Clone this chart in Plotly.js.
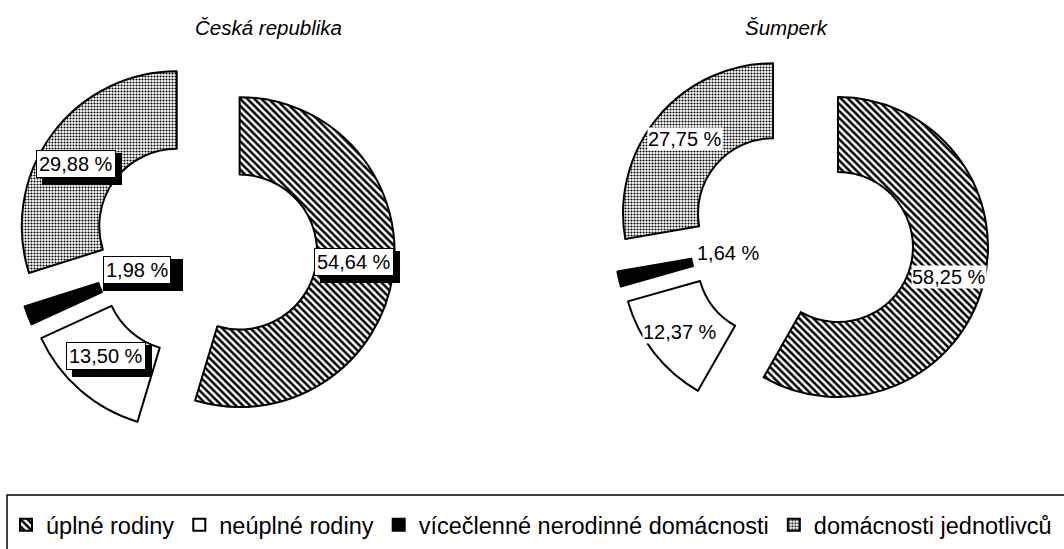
<!DOCTYPE html>
<html><head><meta charset="utf-8">
<script src="https://cdn.plot.ly/plotly-3.0.1.min.js"></script>
<style>html,body{margin:0;padding:0;background:#fff}</style>
</head><body><div id="chart" style="width:1064px;height:549px"></div>
<script>
// ---- data ----
const categories = ['úplné rodiny', 'neúplné rodiny', 'vícečlenné nerodinné domácnosti', 'domácnosti jednotlivců'];
const regions = ['Česká republika', 'Šumperk'];
const valuesCR = [54.64, 13.50, 1.98, 29.88];
const valuesSumperk = [58.25, 12.37, 1.64, 27.75];

// ---- style ----
const W = 1064, H = 549;
const FONT = 'Liberation Sans, Arial, sans-serif';
const sliceColors = ['white', 'white', 'black', 'white'];
const sliceShapes = ['\\', '', '', '.'];
const patternSizes = [5, 6, 6, 3];
const patternSolidity = [0.5, 0.3, 0.3, 0.4];
// label placement (pixels) – style only
const labelPosCR = [[354, 262], [106, 356], [137, 270], [76, 164]];
const labelPosSu = [[949, 277], [680, 332], [728, 253], [685, 139]];
const titlePos = [[268, 27], [787, 27]];

function fmt(v) { return v.toFixed(2).replace('.', ',') + ' %'; }
function px(x) { return x / W; }
function py(y) { return 1 - y / H; }

function pieTrace(values, domain, pull, showlegend) {
  return {
    type: 'pie', labels: categories, values: values, sort: false,
    direction: 'clockwise', rotation: 0, hole: 0.5, pull: pull,
    domain: domain, textinfo: 'none', showlegend: showlegend,
    hoverinfo: 'label+value',
    marker: {
      colors: sliceColors,
      line: { color: 'black', width: 2 },
      pattern: { shape: sliceShapes, fgcolor: 'black', bgcolor: 'white', size: patternSizes, solidity: patternSolidity }
    }
  };
}

const data = [
  pieTrace(valuesCR, { x: [0.0141, 0.3712], y: [0.2040, 0.8962] }, 0.226, true),
  pieTrace(valuesSumperk, { x: [0.5773, 0.9297], y: [0.2260, 0.9091] }, 0.25, false)
];

const annotations = [];
const shapes = [{
  type: 'rect', xref: 'paper', yref: 'paper',
  x0: px(7), x1: 1.05, y0: -0.1, y1: py(495),
  line: { color: 'black', width: 1.5 }, fillcolor: 'rgba(0,0,0,0)'
}];
// titles
regions.forEach((r, i) => annotations.push({
  text: r, xref: 'paper', yref: 'paper', x: px(titlePos[i][0]), y: py(titlePos[i][1]),
  xanchor: 'center', yanchor: 'middle', showarrow: false,
  font: { family: FONT, size: 20.5, color: 'black', style: 'italic' }
}));
// left labels: shadow shape + boxed text
valuesCR.forEach((v, i) => {
  const halfW = 40, halfH = 16;
  shapes.push({
    type: 'rect', xref: 'paper', yref: 'paper', layer: 'above',
    xsizemode: 'pixel', ysizemode: 'pixel',
    xanchor: px(labelPosCR[i][0]), yanchor: py(labelPosCR[i][1]),
    x0: -halfW + 6, x1: halfW + 6, y0: -halfH - 5, y1: halfH - 5,
    line: { width: 0 }, fillcolor: 'black'
  });
  annotations.push({
    text: fmt(v), xref: 'paper', yref: 'paper', x: px(labelPosCR[i][0]), y: py(labelPosCR[i][1]),
    xanchor: 'center', yanchor: 'middle', showarrow: false,
    bgcolor: 'white', bordercolor: 'black', borderwidth: 1, borderpad: 2,
    font: { family: FONT, size: 20, color: 'black' }
  });
});
// right labels
valuesSumperk.forEach((v, i) => {
  annotations.push({
    text: fmt(v), xref: 'paper', yref: 'paper', x: px(labelPosSu[i][0]), y: py(labelPosSu[i][1]),
    xanchor: 'center', yanchor: 'middle', showarrow: false,
    bgcolor: 'white', borderpad: 0,
    font: { family: FONT, size: 20, color: 'black' }
  });
});

const layout = {
  width: W, height: H,
  margin: { l: 0, r: 0, t: 0, b: 0 },
  paper_bgcolor: 'white', plot_bgcolor: 'white',
  font: { family: FONT, color: 'black' },
  showlegend: true,
  legend: {
    orientation: 'h', x: px(6), xanchor: 'left', y: py(525), yanchor: 'middle',
    font: { family: FONT, size: 23.5, color: 'black' },
    bgcolor: 'rgba(0,0,0,0)', borderwidth: 0, traceorder: 'normal'
  },
  shapes: shapes,
  annotations: annotations
};

Plotly.newPlot('chart', data, layout, { displayModeBar: false, staticPlot: true });
</script></body></html>
